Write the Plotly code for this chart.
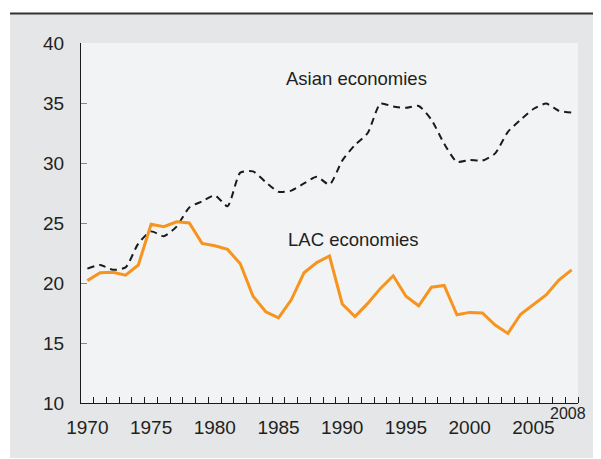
import plotly.graph_objects as go

# Values
years = list(range(1970, 2009))

asian = [
    21.2, 21.5, 21.1, 21.3, 23.3, 24.3, 23.9, 24.7, 26.3, 26.8,
    27.3, 26.4, 29.2, 29.3, 28.4, 27.6, 27.7, 28.3, 28.85, 28.2,
    30.2, 31.5, 32.5, 34.95, 34.7, 34.6, 34.75, 33.6, 31.6, 30.1,
    30.25, 30.2, 30.8, 32.6, 33.6, 34.5, 34.95, 34.35, 34.2,
]

lac = [
    20.2, 20.85, 20.9, 20.65, 21.5, 24.9, 24.7, 25.1, 25.0, 23.3,
    23.1, 22.8, 21.6, 18.9, 17.6, 17.1, 18.6, 20.85, 21.7, 22.25,
    18.25, 17.2, 18.3, 19.55, 20.6, 18.9, 18.1, 19.65, 19.8, 17.35,
    17.55, 17.5, 16.5, 15.8, 17.4, 18.2, 19.0, 20.25, 21.1,
]

label_years = [1970, 1975, 1980, 1985, 1990, 1995, 2000, 2005]
y_ticks = [10, 15, 20, 25, 30, 35, 40]

FONT = "Liberation Sans, Arial, sans-serif"
TXT = "#231f20"
PAPER = "#e5e6e8"
PLOT = "#f2f3f5"

fig = go.Figure()

fig.add_trace(go.Scatter(
    x=years, y=asian, mode="lines", name="Asian economies",
    line=dict(color="#1a1a1a", width=2, dash="7px,5px", shape="spline", smoothing=0.6),
))
fig.add_trace(go.Scatter(
    x=years, y=lac, mode="lines", name="LAC economies",
    line=dict(color="#f7941d", width=3),
))

# the page body adds 8px, so the margins are 8px smaller than on screen
fig.update_layout(
    width=601,
    height=459,
    margin=dict(l=73, r=31, t=35, b=64),
    paper_bgcolor=PAPER,
    plot_bgcolor=PLOT,
    showlegend=False,
    font=dict(family=FONT, size=19, color=TXT),
)

fig.update_xaxes(
    range=[1969.5, 2008.5],
    tickvals=label_years,
    ticktext=[str(y) for y in label_years],
    ticks="",
    ticklabelstandoff=7,
    showline=True, linecolor="#1a1a1a", linewidth=1.3,
    showgrid=False, zeroline=False,
    minor=dict(
        tickvals=[y + 0.5 for y in years],
        ticks="inside", ticklen=6, tickcolor="#1a1a1a", tickwidth=1,
        showgrid=False,
    ),
)
fig.update_yaxes(
    range=[10, 40],
    tickvals=y_ticks,
    ticks="inside", ticklen=6, tickcolor="#888888", tickwidth=1,
    ticklabelstandoff=12,
    showline=True, linecolor="#1a1a1a", linewidth=1.3,
    showgrid=False, zeroline=False,
)

# series labels
fig.add_annotation(x=1991.1, y=37.05, text="Asian economies", showarrow=False,
                   font=dict(size=18.5, color=TXT))
fig.add_annotation(x=1990.85, y=23.6, text="LAC economies", showarrow=False,
                   font=dict(size=18.5, color=TXT))
fig.add_annotation(x=2008, y=-0.028, yref="paper", yanchor="middle", text="2008",
                   showarrow=False, xshift=-4, font=dict(size=16, color=TXT))

# white margins around the grey panel and the rule along its top
white = dict(type="rect", xref="paper", yref="paper", fillcolor="white",
             line=dict(width=0), layer="above")
fig.add_shape(**white, x0=-0.3, x1=1.2, y0=1.0833, y1=1.3)
fig.add_shape(**white, x0=-0.3, x1=-0.1429, y0=-0.3, y1=1.3)
fig.add_shape(**white, x0=-0.3, x1=1.2, y0=-0.3, y1=-0.1528)
fig.add_shape(type="line", xref="paper", yref="paper",
              x0=-0.1429, x1=1.2, y0=1.0819, y1=1.0819,
              line=dict(color="#333333", width=2))

fig.write_html("out.html")
